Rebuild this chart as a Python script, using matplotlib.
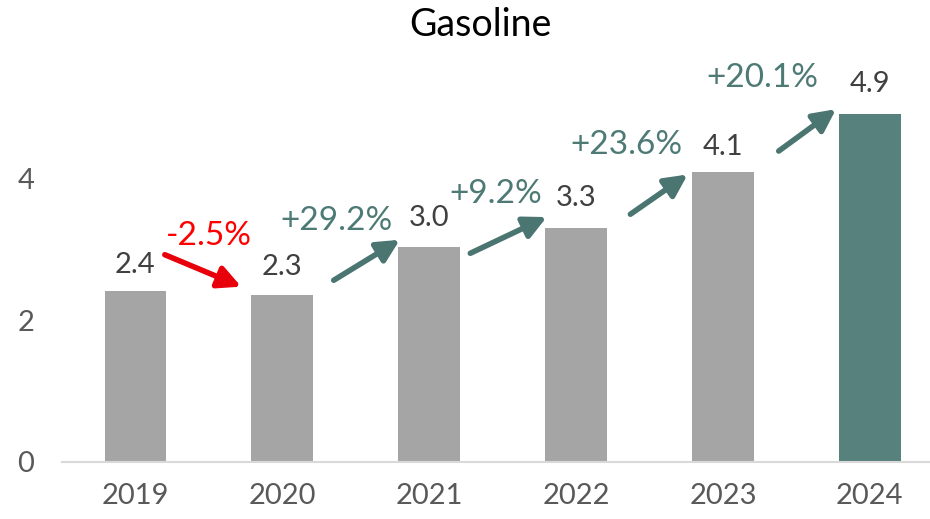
import matplotlib.pyplot as plt

years = ["2019", "2020", "2021", "2022", "2023", "2024"]
values = [2.41, 2.35, 3.03, 3.30, 4.08, 4.90]
value_labels = ["2.4", "2.3", "3.0", "3.3", "4.1", "4.9"]
changes = ["-2.5%", "+29.2%", "+9.2%", "+23.6%", "+20.1%"]

GRAY = "#A5A5A5"
TEAL = "#56817C"
TEAL_TXT = "#4E7A75"
RED = "#FF0000"
TXT = "#404040"

plt.rcParams['font.family'] = ['Lato', 'DejaVu Sans']

fig = plt.figure(figsize=(9.3, 5.19), dpi=100)
ax = fig.add_axes([62 / 930, 57 / 519, 868 / 930, 0.766])

x = list(range(len(years)))
colors = [GRAY] * (len(years) - 1) + [TEAL]
ax.bar(x, values, width=0.42, color=colors)
ax.set_xlim(-0.5, 5.41)
ax.set_ylim(0, 5.6)

# value labels above bars
label_dy = [0.37, 0.40, 0.40, 0.42, 0.36, 0.43]
for i, v in enumerate(values):
    ax.text(i, v + label_dy[i], value_labels[i], ha="center", va="center",
            fontsize=21, color=TXT)

# arrows between bars: (x0, y0, x1, y1) and text position
arrow_pos = [(0.20, 2.92, 0.72, 2.47),
             (1.35, 2.56, 1.80, 3.13),
             (2.28, 2.94, 2.80, 3.45),
             (3.37, 3.49, 3.76, 4.05),
             (4.38, 4.38, 4.77, 4.97)]
text_pos = [(0.50, 3.18), (1.37, 3.40), (2.45, 3.77), (3.34, 4.46), (4.27, 5.41)]
for i, c in enumerate(changes):
    col = RED if c.startswith("-") else TEAL_TXT
    acol = "#E8000B" if c.startswith("-") else "#4A7570"
    x0, y0, x1, y1 = arrow_pos[i]
    ax.annotate("", xy=(x1, y1), xytext=(x0, y0),
                arrowprops=dict(arrowstyle="-|>,head_length=0.9,head_width=0.45",
                                lw=4, color=acol, mutation_scale=15,
                                shrinkA=0, shrinkB=0))
    ax.text(text_pos[i][0], text_pos[i][1], c, ha="center", va="center",
            fontsize=24, color=col)

for s in ["top", "right", "left"]:
    ax.spines[s].set_visible(False)
ax.spines["bottom"].set_color("#D9D9D9")
ax.spines["bottom"].set_linewidth(1.5)

ax.set_xticks(x)
ax.set_xticklabels(years)
ax.set_yticks([0, 2, 4])
ax.tick_params(axis="both", length=0, labelsize=21, colors="#595959")
ax.tick_params(axis="y", pad=20)
ax.tick_params(axis="x", pad=15)

fig.text(480 / 930, 1 - 25 / 519, "Gasoline", ha="center", va="center",
         fontsize=27, color="black")

fig.savefig("out.png", dpi=100)
